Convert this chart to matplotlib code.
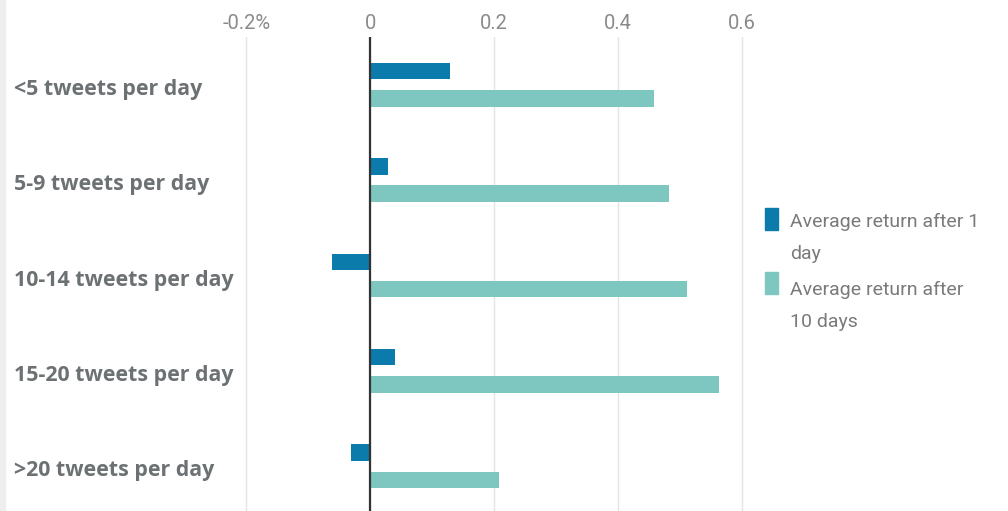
"""Average return by tweet frequency -- grouped horizontal bars."""
import matplotlib
matplotlib.use("Agg")
import matplotlib.pyplot as plt
from matplotlib.patches import Rectangle
from matplotlib.transforms import blended_transform_factory
import numpy as np

categories = ["<5 tweets per day", "5-9 tweets per day", "10-14 tweets per day",
              "15-20 tweets per day", ">20 tweets per day"]
series_names = ["Average return after 1\nday", "Average return after\n10 days"]
return_1d = [0.128, 0.028, -0.062, 0.040, -0.031]
return_10d = [0.458, 0.482, 0.511, 0.562, 0.208]
xticks = [-0.2, 0, 0.2, 0.4, 0.6]
xtick_labels = ["-0.2%", "0", "0.2", "0.4", "0.6"]

COLORS = ["#0b7bab", "#7dc7c0"]
W, H = 1008, 511

fig = plt.figure(figsize=(W / 100, H / 100), dpi=100)
fig.patches.append(Rectangle((0, 0), 5 / W, 1, transform=fig.transFigure,
                             color="#eeeeee", zorder=0))

x0, x1 = -0.25, 0.62
left = (370.3 + x0 * 620) / W
right = (370.3 + x1 * 620) / W
ax = fig.add_axes([left, 0, right - left, (H - 37) / H])

y = np.arange(len(categories))
h, off = 0.173, 0.143
ax.barh(y - off, return_1d, height=h, color=COLORS[0], zorder=3)
ax.barh(y + off, return_10d, height=h, color=COLORS[1], zorder=3)

ax.set_xlim(x0, x1)
ax.set_ylim(4.47, -0.5)
ax.axvline(0, color="#333333", lw=1.6, zorder=4)
ax.xaxis.tick_top()
ax.set_xticks(xticks)
ax.set_xticklabels(xtick_labels, family="Roboto", fontsize=14.5, color="#8a8a8a")
ax.tick_params(axis="x", length=0, pad=3)
ax.set_yticks([])
ax.grid(axis="x", color="#e4e4e4", lw=1, zorder=0)
for s in ax.spines.values():
    s.set_visible(False)

tr = blended_transform_factory(fig.transFigure, ax.transData)
for i, lab in enumerate(categories):
    ax.text(14 / W, i + 0.05, lab, transform=tr, ha="left", va="center",
            family="Open Sans", fontweight="bold", fontsize=15.4, color="#6c7173")

# legend, drawn by hand so the swatch sits on the first text line
sw_y = [219, 283]
txt_y = [238, 306]
for name, c, sy, ty in zip(series_names, COLORS, sw_y, txt_y):
    fig.patches.append(Rectangle((765 / W, 1 - (sy + 11) / H), 13 / W, 22 / H,
                                 transform=fig.transFigure, color=c))
    fig.text(790 / W, 1 - ty / H, name, ha="left", va="center", family="Roboto",
             fontsize=14, color="#7a7a7a", linespacing=1.95)

fig.savefig("out.png", dpi=100, facecolor="white")
